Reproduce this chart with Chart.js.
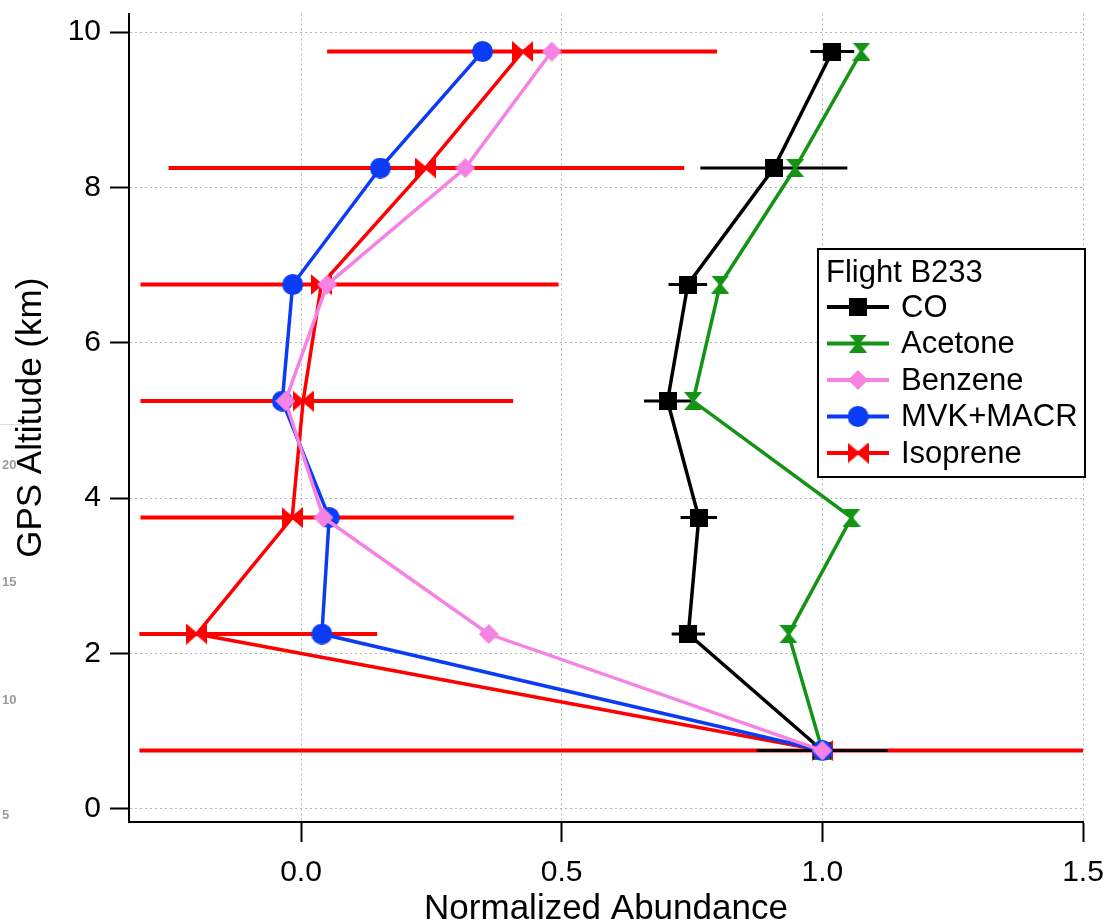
<!DOCTYPE html>
<html>
<head>
<meta charset="utf-8">
<script src="https://cdn.jsdelivr.net/npm/chart.js@4.4.1/dist/chart.umd.min.js"></script>
<style>
  html, body { margin: 0; padding: 0; background: #fff; }
  #wrap { position: relative; width: 1107px; height: 924px; overflow: hidden; }
  .stray { position: absolute; left: 2px; font: bold 13px "Liberation Sans", Arial, sans-serif; color: #9a9a9a; }
  .strayline { position: absolute; left: 0; top: 424px; width: 26px; height: 1px; background: #ddd; }
</style>
</head>
<body>
<div id="wrap">
  <canvas id="chart" width="1107" height="924"></canvas>
  <div class="strayline"></div>
  <div class="stray" style="top:457px">20</div>
  <div class="stray" style="top:574px">15</div>
  <div class="stray" style="top:692px">10</div>
  <div class="stray" style="top:807px">5</div>
</div>
<script>
// altitude bins (km) and normalized abundances
const altitude = [9.75, 8.25, 6.75, 5.25, 3.75, 2.25, 0.75];
const coValues = [1.019, 0.907, 0.742, 0.703, 0.763, 0.743, 1.0];
const coError = [0.042, 0.141, 0.037, 0.045, 0.035, 0.032, 0.126];
const acetoneValues = [1.075, 0.948, 0.804, 0.752, 1.056, 0.935, 1.0];
const benzeneValues = [0.481, 0.315, 0.05, -0.03, 0.043, 0.36, 1.0];
const mvkMacrValues = [0.348, 0.152, -0.016, -0.036, 0.054, 0.04, 1.0];
const isopreneValues = [0.425, 0.239, 0.039, 0.004, -0.017, -0.2, 1.0];
const isopreneLow = [0.05, -0.254, -0.308, -0.308, -0.308, -0.31, -0.31];
const isopreneHigh = [0.798, 0.735, 0.494, 0.407, 0.408, 0.146, 1.6];
const xTicks = [0, 0.5, 1.0, 1.5];
const yTicks = [0, 2, 4, 6, 8, 10];

const FONT = '"Liberation Sans", Arial, sans-serif';

function makeMarker(kind, color, w, h) {
  const c = document.createElement('canvas');
  c.width = w; c.height = h;
  const g = c.getContext('2d');
  g.fillStyle = color;
  g.beginPath();
  if (kind === 'square') g.rect(0, 0, w, h);
  if (kind === 'circle') g.arc(w / 2, h / 2, w / 2, 0, Math.PI * 2);
  if (kind === 'diamond') {
    g.moveTo(w / 2, 0); g.lineTo(w, h / 2); g.lineTo(w / 2, h); g.lineTo(0, h / 2); g.closePath();
  }
  if (kind === 'hourglass') {
    g.moveTo(0, 0); g.lineTo(w, 0); g.lineTo(w / 2 + 1.5, h / 2); g.lineTo(w / 2 - 1.5, h / 2); g.closePath();
    g.moveTo(w / 2 - 1.5, h / 2); g.lineTo(w / 2 + 1.5, h / 2); g.lineTo(w, h); g.lineTo(0, h); g.closePath();
  }
  if (kind === 'bowtie') {
    g.moveTo(0, 0); g.lineTo(w / 2, h / 2 - 1.5); g.lineTo(w / 2, h / 2 + 1.5); g.lineTo(0, h); g.closePath();
    g.moveTo(w, 0); g.lineTo(w / 2, h / 2 - 1.5); g.lineTo(w / 2, h / 2 + 1.5); g.lineTo(w, h); g.closePath();
  }
  g.fill();
  return c;
}

const colors = { co: '#000000', acetone: '#149414', benzene: '#f683e3', mvk: '#0a3cf5', isoprene: '#ff0000' };
const markers = {
  co: makeMarker('square', colors.co, 18, 18),
  acetone: makeMarker('hourglass', colors.acetone, 18, 18),
  benzene: makeMarker('diamond', colors.benzene, 20, 20),
  mvk: makeMarker('circle', colors.mvk, 21, 21),
  isoprene: makeMarker('bowtie', colors.isoprene, 21, 21)
};

function points(values) {
  return values.map((v, i) => ({ x: v, y: altitude[i] }));
}

function barPoints(lo, hi) {
  const out = [];
  altitude.forEach((a, i) => {
    out.push({ x: lo[i], y: a }, { x: hi[i], y: a }, { x: null, y: null });
  });
  return out;
}

function series(label, key, values, order) {
  return {
    label: label,
    data: points(values),
    showLine: true,
    borderColor: colors[key],
    backgroundColor: colors[key],
    borderWidth: 3.5,
    pointStyle: markers[key],
    pointRadius: 10,
    order: order
  };
}

function errorBars(label, key, lo, hi, width, order) {
  return {
    label: label,
    data: barPoints(lo, hi),
    showLine: true,
    spanGaps: false,
    borderColor: colors[key],
    borderWidth: width,
    pointRadius: 0,
    order: order
  };
}

const legendRows = [
  ['CO', 'co'], ['Acetone', 'acetone'], ['Benzene', 'benzene'], ['MVK+MACR', 'mvk'], ['Isoprene', 'isoprene']
];

const boxLegend = {
  id: 'boxLegend',
  afterDraw(chart) {
    const ctx = chart.ctx;
    ctx.save();
    ctx.fillStyle = '#fff';
    ctx.fillRect(818, 249, 267, 228);
    ctx.strokeStyle = '#000';
    ctx.lineWidth = 2;
    ctx.strokeRect(818, 249, 267, 228);
    ctx.fillStyle = '#000';
    ctx.font = '31px ' + FONT;
    ctx.textBaseline = 'alphabetic';
    ctx.fillText('Flight B233', 826, 282);
    legendRows.forEach((row, i) => {
      const y = 307 + i * 36.5;
      ctx.strokeStyle = colors[row[1]];
      ctx.lineWidth = 4;
      ctx.beginPath();
      ctx.moveTo(827, y);
      ctx.lineTo(889, y);
      ctx.stroke();
      const m = markers[row[1]];
      ctx.drawImage(m, 858 - m.width / 2, y - m.height / 2);
      ctx.fillStyle = '#000';
      ctx.textBaseline = 'middle';
      ctx.fillText(row[0], 901, y + 1);
    });
    ctx.restore();
  }
};

function noEdgePadding(s) {
  s.paddingTop = 0;
  s.paddingBottom = 0;
  s.paddingLeft = 0;
  s.paddingRight = 0;
}

function createChart() {
  new Chart(document.getElementById('chart'), {
    type: 'scatter',
    data: {
      datasets: [
        series('Benzene', 'benzene', benzeneValues, 0),
        series('MVK+MACR', 'mvk', mvkMacrValues, 1),
        series('Acetone', 'acetone', acetoneValues, 2),
        series('CO', 'co', coValues, 3),
        errorBars('CO error', 'co', coValues.map((v, i) => v - coError[i]), coValues.map((v, i) => v + coError[i]), 3, 4),
        series('Isoprene', 'isoprene', isopreneValues, 5),
        errorBars('Isoprene error', 'isoprene', isopreneLow, isopreneHigh, 4, 6)
      ]
    },
    options: {
      responsive: false,
      animation: false,
      layout: { padding: { left: 0, right: 24, top: 10, bottom: 0 } },
      plugins: { legend: { display: false }, tooltip: { enabled: false } },
      scales: {
        x: {
          type: 'linear',
          min: -0.33,
          max: 1.5,
          afterBuildTicks: (s) => { s.ticks = xTicks.map(v => ({ value: v })); },
          afterFit: (s) => { s.height = 102; noEdgePadding(s); },
          ticks: { callback: (v) => Number(v).toFixed(1), color: '#000', font: { family: FONT, size: 30 }, padding: 13, maxRotation: 0, autoSkip: false },
          grid: { color: '#b4b4b4', lineWidth: 1, tickLength: 20, tickColor: '#000', tickWidth: 2 },
          border: { display: true, color: '#000', width: 2, dash: [2, 3] },
          title: { display: true, text: 'Normalized Abundance', color: '#000', font: { family: FONT, size: 35, lineHeight: 1 }, padding: { top: 0, bottom: -3 } }
        },
        y: {
          type: 'linear',
          min: -0.17,
          max: 10.24,
          afterBuildTicks: (s) => { s.ticks = yTicks.map(v => ({ value: v })); },
          afterFit: (s) => { s.width = 129; noEdgePadding(s); },
          ticks: { color: '#000', font: { family: FONT, size: 30 }, padding: 9 },
          grid: { color: '#b4b4b4', lineWidth: 1, tickLength: 19, tickColor: '#000', tickWidth: 2 },
          border: { display: true, color: '#000', width: 2, dash: [2, 3] },
          title: { display: true, text: 'GPS Altitude (km)', color: '#000', font: { family: FONT, size: 35, lineHeight: 1 }, padding: { top: 14, bottom: 0 } }
        }
      }
    },
    plugins: [boxLegend]
  });
}

document.addEventListener('DOMContentLoaded', createChart);
</script>
</body>
</html>
